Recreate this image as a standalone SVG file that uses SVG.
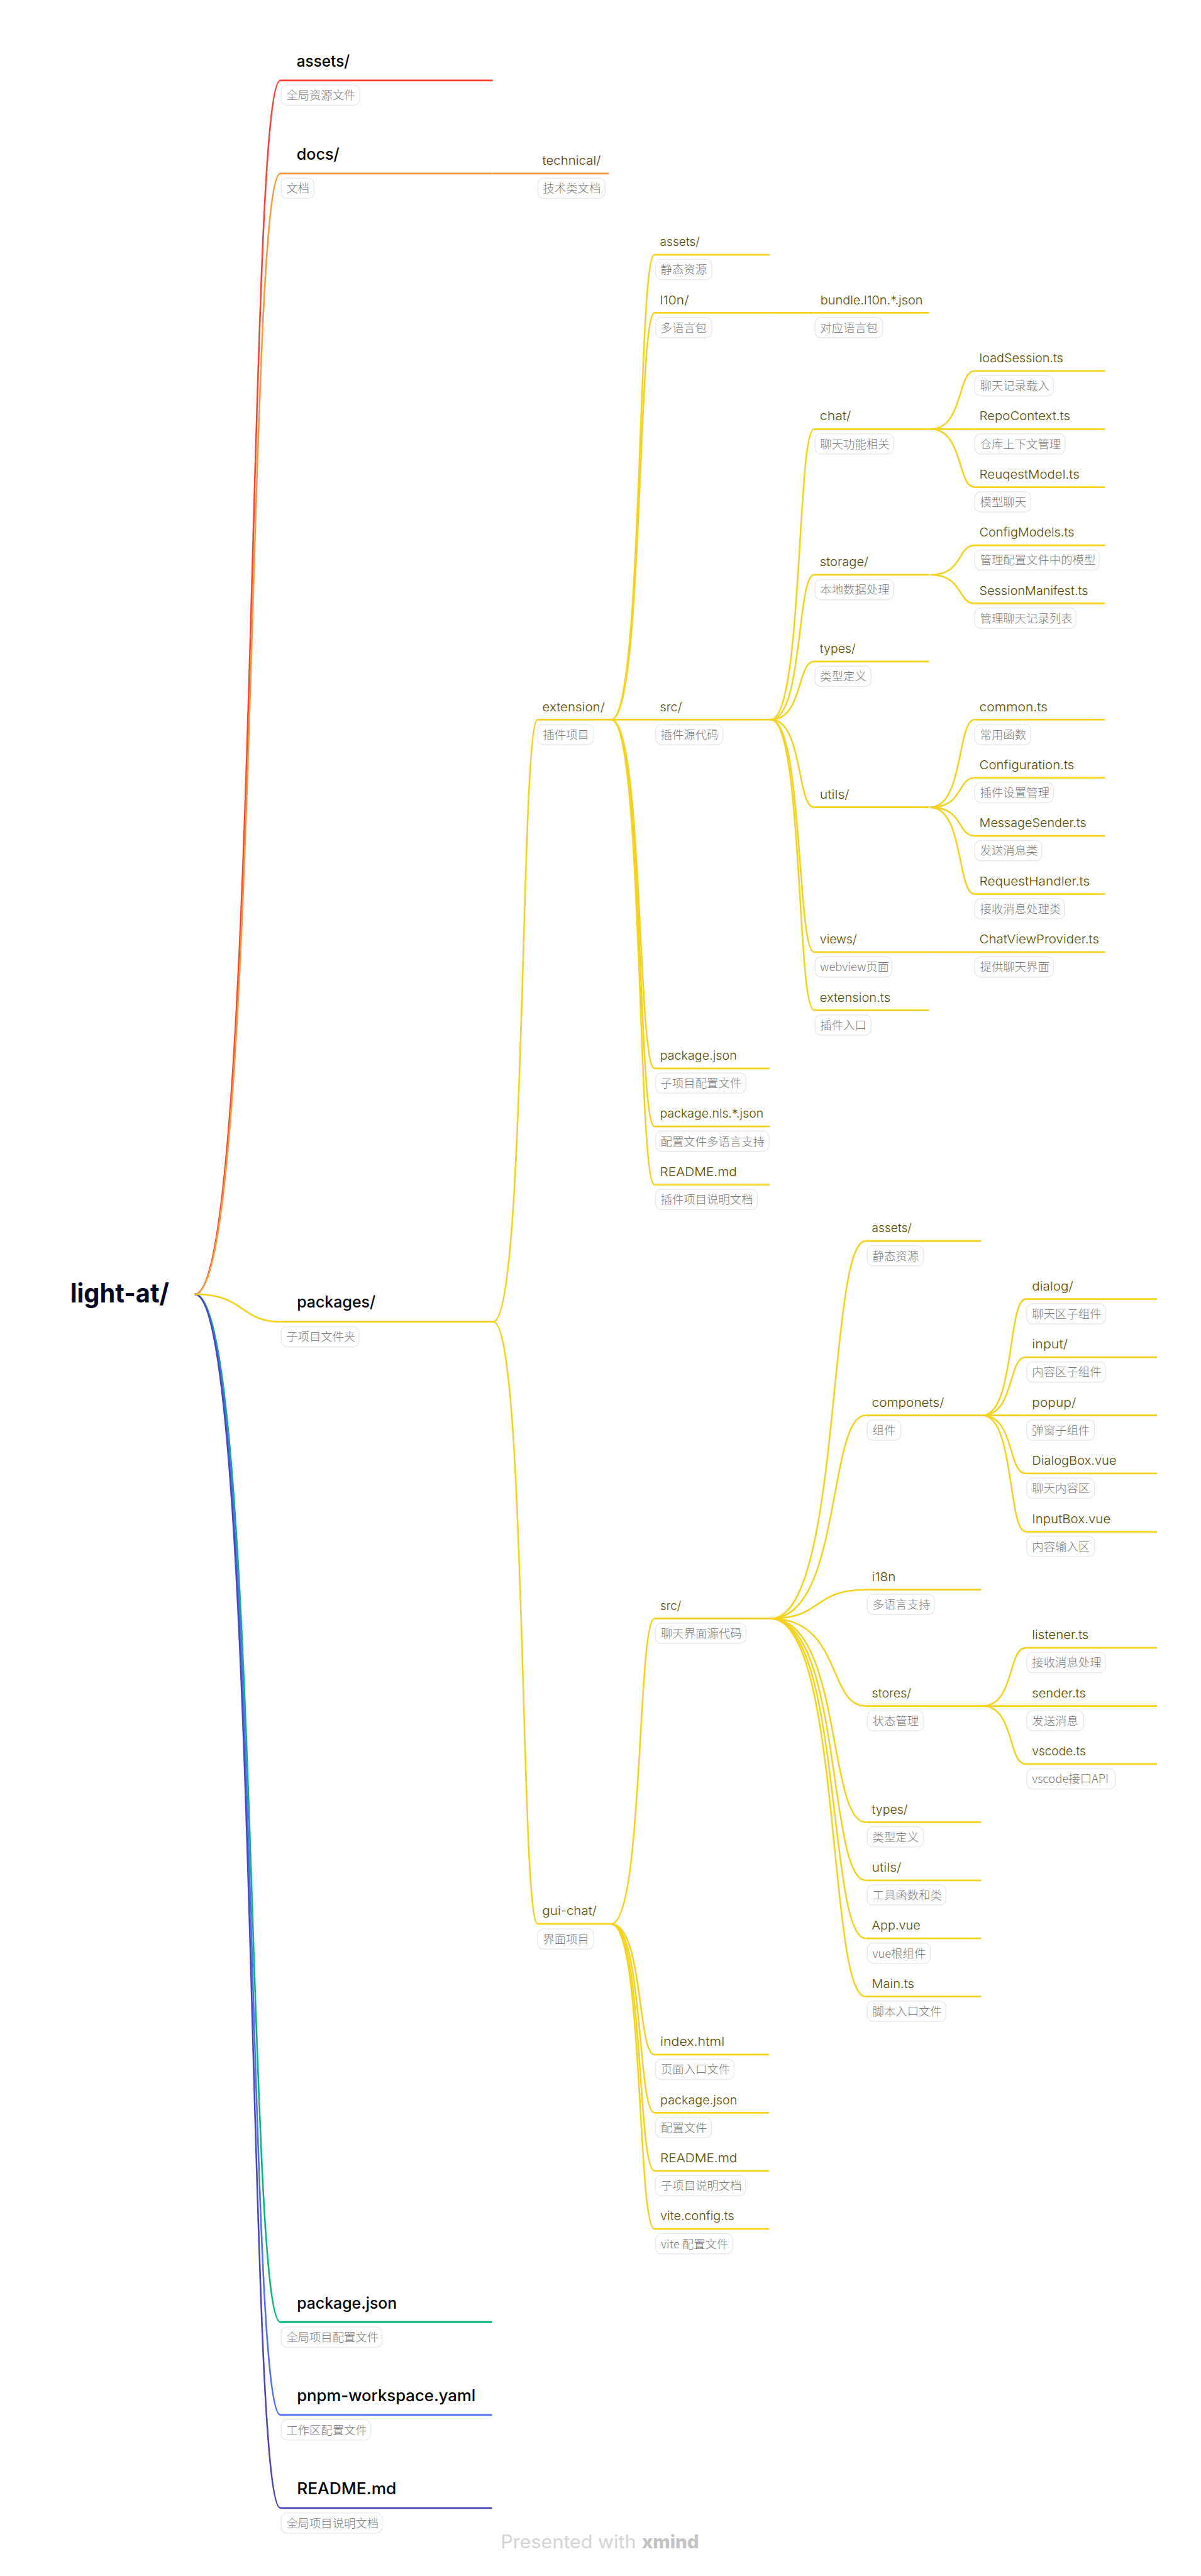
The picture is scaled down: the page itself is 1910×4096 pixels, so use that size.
<svg xmlns="http://www.w3.org/2000/svg" width="1910" height="4096" viewBox="0 0 1910 4096">
<style>
text{font-family:"Inter","Noto Sans CJK SC",sans-serif}
.u{fill:none;stroke-width:3;stroke-linecap:butt}
.c{fill:none;stroke-width:2.8}
.Y{stroke:#f5d21f}.R{stroke:#ff4034}.O{stroke:#f99a3c}.G{stroke:#00b87c}.B{stroke:#4f6dff}.I{stroke:#4a47b8}
.nb{fill:#fff;stroke:#e8e8e8;stroke-width:1.5}
.nt{font-family:"Noto Sans CJK SC",sans-serif;font-size:20px;font-weight:300;fill:#7a7a7a}
.t0{font-size:46px;font-weight:700;fill:#060826}
.t1{font-size:28px;font-weight:500;fill:#000}
.t2{font-size:21px;font-weight:300;fill:#5a3a0a}
.t3{font-size:21px;font-weight:300;fill:#5c4d00}
.f1{font-size:32px;font-weight:400;fill:#d4d4d4}
.f2{font-size:32px;font-weight:800;fill:#c4c4c4}
</style>
<g transform="scale(0.9195)">
<g id="connectors">
<path class="c R" d="M337 2238C448 2238 426 139 485 139"/>
<path class="c O" d="M337 2238C448 2238 426 300 485 300"/>
<path class="u O" d="M852 300H930"/>
<path class="c G" d="M337 2238C448 2238 426 4015.5 485 4015.5"/>
<path class="c B" d="M337 2238C448 2238 426 4176 485 4176"/>
<path class="c I" d="M337 2238C448 2238 426 4337 485 4337"/>
<path class="c Y" d="M337 2238C424 2238 414 2285.7 486 2285.7" style="stroke-width:3"/>
<path class="c Y" d="M853 2285.7C911 2285.7 899 1244.5 930 1244.5"/>
<path class="c Y" d="M853 2285.7C911 2285.7 899 3327 930 3327"/>
<path class="c Y" d="M1057 1244.5C1113 1244.5 1102 440.5 1132 440.5"/>
<path class="c Y" d="M1057 1244.5C1113 1244.5 1102 541 1132 541"/>
<path class="u Y" d="M1057 1244.5H1132"/>
<path class="c Y" d="M1057 1244.5C1113 1244.5 1102 1847.5 1132 1847.5"/>
<path class="c Y" d="M1057 1244.5C1113 1244.5 1102 1948 1132 1948"/>
<path class="c Y" d="M1057 1244.5C1113 1244.5 1102 2048.5 1132 2048.5"/>
<path class="u Y" d="M1331 541H1409"/>
<path class="c Y" d="M1333 1244.5C1389 1244.5 1378 742 1408 742"/>
<path class="c Y" d="M1333 1244.5C1389 1244.5 1378 994 1408 994"/>
<path class="c Y" d="M1333 1244.5C1389 1244.5 1378 1144 1408 1144"/>
<path class="c Y" d="M1333 1244.5C1389 1244.5 1378 1396 1408 1396"/>
<path class="c Y" d="M1333 1244.5C1389 1244.5 1378 1646.5 1408 1646.5"/>
<path class="c Y" d="M1333 1244.5C1389 1244.5 1378 1747 1408 1747"/>
<path class="c Y" d="M1609 742C1667 742 1655 641.5 1686 641.5"/>
<path class="u Y" d="M1607 742H1686"/>
<path class="c Y" d="M1609 742C1667 742 1655 842.5 1686 842.5"/>
<path class="c Y" d="M1609 994C1667 994 1655 943 1686 943"/>
<path class="c Y" d="M1609 994C1667 994 1655 1043.5 1686 1043.5"/>
<path class="c Y" d="M1609 1396C1667 1396 1655 1244.5 1686 1244.5"/>
<path class="c Y" d="M1609 1396C1667 1396 1655 1345 1686 1345"/>
<path class="c Y" d="M1609 1396C1667 1396 1655 1445.5 1686 1445.5"/>
<path class="c Y" d="M1609 1396C1667 1396 1655 1546 1686 1546"/>
<path class="u Y" d="M1607 1646.5H1686"/>
<path class="c Y" d="M1057 3327C1113 3327 1102 2799 1132 2799"/>
<path class="c Y" d="M1057 3327C1113 3327 1102 3553 1132 3553"/>
<path class="c Y" d="M1057 3327C1113 3327 1102 3653.5 1132 3653.5"/>
<path class="c Y" d="M1057 3327C1113 3327 1102 3754 1132 3754"/>
<path class="c Y" d="M1057 3327C1113 3327 1102 3854.5 1132 3854.5"/>
<path class="c Y" d="M1333 2799C1456 2799 1431 2146 1497 2146"/>
<path class="c Y" d="M1333 2799C1456 2799 1431 2447.5 1497 2447.5"/>
<path class="c Y" d="M1333 2799C1423 2799 1405 2749 1497 2749"/>
<path class="c Y" d="M1333 2799C1456 2799 1431 2950 1497 2950"/>
<path class="c Y" d="M1333 2799C1456 2799 1431 3151 1497 3151"/>
<path class="c Y" d="M1333 2799C1456 2799 1431 3251.5 1497 3251.5"/>
<path class="c Y" d="M1333 2799C1456 2799 1431 3352 1497 3352"/>
<path class="c Y" d="M1333 2799C1456 2799 1431 3452.5 1497 3452.5"/>
<path class="c Y" d="M1699 2447.5C1755 2447.5 1743 2246.5 1774 2246.5"/>
<path class="c Y" d="M1699 2447.5C1755 2447.5 1743 2347 1774 2347"/>
<path class="u Y" d="M1697 2447.5H1774"/>
<path class="c Y" d="M1699 2447.5C1755 2447.5 1743 2548 1774 2548"/>
<path class="c Y" d="M1699 2447.5C1755 2447.5 1743 2648.5 1774 2648.5"/>
<path class="c Y" d="M1699 2950C1755 2950 1743 2849.5 1774 2849.5"/>
<path class="u Y" d="M1697 2950H1774"/>
<path class="c Y" d="M1699 2950C1755 2950 1743 3050.5 1774 3050.5"/>
</g>

<g id="root"><text class="t0" x="121.5" y="2252" textLength="171" lengthAdjust="spacingAndGlyphs">light-at/</text></g>

<g id="top-assets"><path class="u R" d="M485 139H852"/><text class="t1" x="513" y="115" textLength="92" lengthAdjust="spacingAndGlyphs">assets/</text><rect class="nb" x="486" y="147" width="136" height="35" rx="10"/><text class="nt" x="495" y="172">全局资源文件</text></g>
<g id="top-docs"><path class="u O" d="M485 300H852"/><text class="t1" x="513" y="276" textLength="74" lengthAdjust="spacingAndGlyphs">docs/</text><rect class="nb" x="486" y="308" width="57" height="35" rx="10"/><text class="nt" x="495" y="333">文档</text></g>
<g id="docs-technical"><path class="u O" d="M930 300H1053"/><text class="t2" x="938" y="285" textLength="101" lengthAdjust="spacingAndGlyphs">technical/</text><rect class="nb" x="930.5" y="308" width="116" height="35" rx="10"/><text class="nt" x="939" y="333">技术类文档</text></g>
<g id="top-packages"><path class="u Y" d="M486 2285.7H853"/><text class="t1" x="513.5" y="2261" textLength="136" lengthAdjust="spacingAndGlyphs">packages/</text><rect class="nb" x="486" y="2294" width="135" height="35" rx="10"/><text class="nt" x="495" y="2319">子项目文件夹</text></g>
<g id="top-package-json"><path class="u G" d="M485 4015.5H851"/><text class="t1" x="513.5" y="3992" textLength="173" lengthAdjust="spacingAndGlyphs">package.json</text><rect class="nb" x="486" y="4024" width="175" height="35" rx="10"/><text class="nt" x="495" y="4049">全局项目配置文件</text></g>
<g id="top-pnpm"><path class="u B" d="M485 4176H851"/><text class="t1" x="513.5" y="4152.5" textLength="309" lengthAdjust="spacingAndGlyphs">pnpm-workspace.yaml</text><rect class="nb" x="486" y="4184.5" width="155" height="35" rx="10"/><text class="nt" x="495" y="4209.5">工作区配置文件</text></g>
<g id="top-readme"><path class="u I" d="M485 4337H851"/><text class="t1" x="513.5" y="4313.5" textLength="172" lengthAdjust="spacingAndGlyphs">README.md</text><rect class="nb" x="486" y="4345.5" width="175" height="35" rx="10"/><text class="nt" x="495" y="4370.5">全局项目说明文档</text></g>

<g id="extension"><path class="u Y" d="M930 1244.5H1057"/><text class="t3" x="938" y="1229.5" textLength="108" lengthAdjust="spacingAndGlyphs">extension/</text><rect class="nb" x="930" y="1252.5" width="97" height="35" rx="10"/><text class="nt" x="939" y="1277.5">插件项目</text></g>
<g id="gui-chat"><path class="u Y" d="M930 3327H1057"/><text class="t3" x="938" y="3312" textLength="94" lengthAdjust="spacingAndGlyphs">gui-chat/</text><rect class="nb" x="930" y="3335.5" width="97" height="35" rx="10"/><text class="nt" x="939" y="3360.5">界面项目</text></g>

<g id="ext-assets"><path class="u Y" d="M1132 440.5H1331"/><text class="t3" x="1141.5" y="425.5" textLength="69" lengthAdjust="spacingAndGlyphs">assets/</text><rect class="nb" x="1134" y="448.5" width="97" height="35" rx="10"/><text class="nt" x="1142.5" y="473.5">静态资源</text></g>
<g id="ext-l10n"><path class="u Y" d="M1132 541H1331"/><text class="t3" x="1141.5" y="526" textLength="50" lengthAdjust="spacingAndGlyphs">l10n/</text><rect class="nb" x="1134" y="549" width="97" height="35" rx="10"/><text class="nt" x="1142.5" y="574">多语言包</text></g>
<g id="ext-bundle"><path class="u Y" d="M1409 541H1607"/><text class="t3" x="1419" y="526" textLength="177" lengthAdjust="spacingAndGlyphs">bundle.l10n.*.json</text><rect class="nb" x="1409.5" y="549" width="117" height="35" rx="10"/><text class="nt" x="1418.5" y="574">对应语言包</text></g>
<g id="ext-src"><path class="u Y" d="M1132 1244.5H1333"/><text class="t3" x="1141.5" y="1229.5" textLength="38" lengthAdjust="spacingAndGlyphs">src/</text><rect class="nb" x="1134" y="1252.5" width="116" height="35" rx="10"/><text class="nt" x="1142.5" y="1277.5">插件源代码</text></g>
<g id="ext-package-json"><path class="u Y" d="M1132 1847.5H1331"/><text class="t3" x="1141.5" y="1832.5" textLength="133" lengthAdjust="spacingAndGlyphs">package.json</text><rect class="nb" x="1134" y="1855.5" width="156" height="35" rx="10"/><text class="nt" x="1142.5" y="1880.5">子项目配置文件</text></g>
<g id="ext-nls"><path class="u Y" d="M1132 1948H1331"/><text class="t3" x="1141.5" y="1933" textLength="179" lengthAdjust="spacingAndGlyphs">package.nls.*.json</text><rect class="nb" x="1134" y="1956" width="196" height="35" rx="10"/><text class="nt" x="1142.5" y="1981">配置文件多语言支持</text></g>
<g id="ext-readme"><path class="u Y" d="M1132 2048.5H1331"/><text class="t3" x="1141.5" y="2033.5" textLength="133" lengthAdjust="spacingAndGlyphs">README.md</text><rect class="nb" x="1134" y="2056.5" width="176" height="35" rx="10"/><text class="nt" x="1142.5" y="2081.5">插件项目说明文档</text></g>

<g id="ext-chat"><path class="u Y" d="M1408 742H1607"/><text class="t3" x="1418" y="727" textLength="54" lengthAdjust="spacingAndGlyphs">chat/</text><rect class="nb" x="1409.5" y="750" width="136" height="35" rx="10"/><text class="nt" x="1418.5" y="775">聊天功能相关</text></g>
<g id="ext-storage"><path class="u Y" d="M1408 994H1607"/><text class="t3" x="1418" y="979" textLength="84" lengthAdjust="spacingAndGlyphs">storage/</text><rect class="nb" x="1409.5" y="1002" width="136" height="35" rx="10"/><text class="nt" x="1418.5" y="1027">本地数据处理</text></g>
<g id="ext-types"><path class="u Y" d="M1408 1144H1607"/><text class="t3" x="1418" y="1129" textLength="62" lengthAdjust="spacingAndGlyphs">types/</text><rect class="nb" x="1409.5" y="1152" width="97" height="35" rx="10"/><text class="nt" x="1418.5" y="1177">类型定义</text></g>
<g id="ext-utils"><path class="u Y" d="M1408 1396H1607"/><text class="t3" x="1418" y="1381" textLength="51" lengthAdjust="spacingAndGlyphs">utils/</text></g>
<g id="ext-views"><path class="u Y" d="M1408 1646.5H1607"/><text class="t3" x="1418" y="1631.5" textLength="64" lengthAdjust="spacingAndGlyphs">views/</text><rect class="nb" x="1409.5" y="1654.5" width="133" height="35" rx="10"/><text class="nt" x="1418.5" y="1679.5">webview页面</text></g>
<g id="ext-extension-ts"><path class="u Y" d="M1408 1747H1607"/><text class="t3" x="1418" y="1732" textLength="122" lengthAdjust="spacingAndGlyphs">extension.ts</text><rect class="nb" x="1409.5" y="1755" width="97" height="35" rx="10"/><text class="nt" x="1418.5" y="1780">插件入口</text></g>

<g id="ext-loadSession"><path class="u Y" d="M1686 641.5H1911"/><text class="t3" x="1694" y="626.5" textLength="145" lengthAdjust="spacingAndGlyphs">loadSession.ts</text><rect class="nb" x="1686" y="649.5" width="136" height="35" rx="10"/><text class="nt" x="1695" y="674.5">聊天记录载入</text></g>
<g id="ext-RepoContext"><path class="u Y" d="M1686 742H1911"/><text class="t3" x="1694" y="727" textLength="157" lengthAdjust="spacingAndGlyphs">RepoContext.ts</text><rect class="nb" x="1686" y="750" width="156" height="35" rx="10"/><text class="nt" x="1695" y="775">仓库上下文管理</text></g>
<g id="ext-ReuqestModel"><path class="u Y" d="M1686 842.5H1911"/><text class="t3" x="1694" y="827.5" textLength="173" lengthAdjust="spacingAndGlyphs">ReuqestModel.ts</text><rect class="nb" x="1686" y="850.5" width="97" height="35" rx="10"/><text class="nt" x="1695" y="875.5">模型聊天</text></g>
<g id="ext-ConfigModels"><path class="u Y" d="M1686 943H1911"/><text class="t3" x="1694" y="928" textLength="164" lengthAdjust="spacingAndGlyphs">ConfigModels.ts</text><rect class="nb" x="1686" y="951" width="215" height="35" rx="10"/><text class="nt" x="1695" y="976">管理配置文件中的模型</text></g>
<g id="ext-SessionManifest"><path class="u Y" d="M1686 1043.5H1911"/><text class="t3" x="1694" y="1028.5" textLength="188" lengthAdjust="spacingAndGlyphs">SessionManifest.ts</text><rect class="nb" x="1686" y="1051.5" width="175" height="35" rx="10"/><text class="nt" x="1695" y="1076.5">管理聊天记录列表</text></g>
<g id="ext-common"><path class="u Y" d="M1686 1244.5H1911"/><text class="t3" x="1694" y="1229.5" textLength="118" lengthAdjust="spacingAndGlyphs">common.ts</text><rect class="nb" x="1686" y="1252.5" width="97" height="35" rx="10"/><text class="nt" x="1695" y="1277.5">常用函数</text></g>
<g id="ext-Configuration"><path class="u Y" d="M1686 1345H1911"/><text class="t3" x="1694" y="1330" textLength="164" lengthAdjust="spacingAndGlyphs">Configuration.ts</text><rect class="nb" x="1686" y="1353" width="136" height="35" rx="10"/><text class="nt" x="1695" y="1378">插件设置管理</text></g>
<g id="ext-MessageSender"><path class="u Y" d="M1686 1445.5H1911"/><text class="t3" x="1694" y="1430.5" textLength="185" lengthAdjust="spacingAndGlyphs">MessageSender.ts</text><rect class="nb" x="1686" y="1453.5" width="116" height="35" rx="10"/><text class="nt" x="1695" y="1478.5">发送消息类</text></g>
<g id="ext-RequestHandler"><path class="u Y" d="M1686 1546H1911"/><text class="t3" x="1694" y="1531" textLength="191" lengthAdjust="spacingAndGlyphs">RequestHandler.ts</text><rect class="nb" x="1686" y="1554" width="155" height="35" rx="10"/><text class="nt" x="1695" y="1579">接收消息处理类</text></g>
<g id="ext-ChatViewProvider"><path class="u Y" d="M1686 1646.5H1911"/><text class="t3" x="1694" y="1631.5" textLength="207" lengthAdjust="spacingAndGlyphs">ChatViewProvider.ts</text><rect class="nb" x="1686" y="1654.5" width="136" height="35" rx="10"/><text class="nt" x="1695" y="1679.5">提供聊天界面</text></g>

<g id="gui-src"><path class="u Y" d="M1132 2799H1333"/><text class="t3" x="1142" y="2784" textLength="36" lengthAdjust="spacingAndGlyphs">src/</text><rect class="nb" x="1133.5" y="2807" width="156.5" height="35" rx="10"/><text class="nt" x="1143" y="2832">聊天界面源代码</text></g>
<g id="gui-index"><path class="u Y" d="M1132 3553H1330"/><text class="t3" x="1142" y="3538" textLength="111" lengthAdjust="spacingAndGlyphs">index.html</text><rect class="nb" x="1133.5" y="3561" width="136" height="35" rx="10"/><text class="nt" x="1143" y="3586">页面入口文件</text></g>
<g id="gui-package-json"><path class="u Y" d="M1132 3653.5H1330"/><text class="t3" x="1142" y="3638.5" textLength="133" lengthAdjust="spacingAndGlyphs">package.json</text><rect class="nb" x="1133.5" y="3661.5" width="97" height="35" rx="10"/><text class="nt" x="1143" y="3686.5">配置文件</text></g>
<g id="gui-readme"><path class="u Y" d="M1132 3754H1330"/><text class="t3" x="1142" y="3739" textLength="133" lengthAdjust="spacingAndGlyphs">README.md</text><rect class="nb" x="1133.5" y="3762" width="156" height="35" rx="10"/><text class="nt" x="1143" y="3787">子项目说明文档</text></g>
<g id="gui-vite"><path class="u Y" d="M1132 3854.5H1330"/><text class="t3" x="1142" y="3839.5" textLength="128" lengthAdjust="spacingAndGlyphs">vite.config.ts</text><rect class="nb" x="1134" y="3862.5" width="133" height="35" rx="10"/><text class="nt" x="1143" y="3887.5">vite 配置文件</text></g>

<g id="gui-assets"><path class="u Y" d="M1497 2146H1697"/><text class="t3" x="1508" y="2131" textLength="69" lengthAdjust="spacingAndGlyphs">assets/</text><rect class="nb" x="1500" y="2154" width="97" height="35" rx="10"/><text class="nt" x="1509" y="2179">静态资源</text></g>
<g id="gui-componets"><path class="u Y" d="M1497 2447.5H1697"/><text class="t3" x="1508" y="2432.5" textLength="125" lengthAdjust="spacingAndGlyphs">componets/</text><rect class="nb" x="1500" y="2455.5" width="58" height="35" rx="10"/><text class="nt" x="1509" y="2480.5">组件</text></g>
<g id="gui-i18n"><path class="u Y" d="M1497 2749H1697"/><text class="t3" x="1508" y="2734" textLength="41" lengthAdjust="spacingAndGlyphs">i18n</text><rect class="nb" x="1500" y="2757" width="116" height="35" rx="10"/><text class="nt" x="1509" y="2782">多语言支持</text></g>
<g id="gui-stores"><path class="u Y" d="M1497 2950H1697"/><text class="t3" x="1508" y="2935" textLength="68" lengthAdjust="spacingAndGlyphs">stores/</text><rect class="nb" x="1500" y="2958" width="97" height="35" rx="10"/><text class="nt" x="1509" y="2983">状态管理</text></g>
<g id="gui-types"><path class="u Y" d="M1497 3151H1697"/><text class="t3" x="1508" y="3136" textLength="62" lengthAdjust="spacingAndGlyphs">types/</text><rect class="nb" x="1500" y="3159" width="97" height="35" rx="10"/><text class="nt" x="1509" y="3184">类型定义</text></g>
<g id="gui-utils"><path class="u Y" d="M1497 3251.5H1697"/><text class="t3" x="1508" y="3236.5" textLength="51" lengthAdjust="spacingAndGlyphs">utils/</text><rect class="nb" x="1500" y="3259.5" width="136" height="35" rx="10"/><text class="nt" x="1509" y="3284.5">工具函数和类</text></g>
<g id="gui-App"><path class="u Y" d="M1497 3352H1697"/><text class="t3" x="1508" y="3337" textLength="84" lengthAdjust="spacingAndGlyphs">App.vue</text><rect class="nb" x="1500" y="3360" width="109" height="35" rx="10"/><text class="nt" x="1509" y="3385">vue根组件</text></g>
<g id="gui-Main"><path class="u Y" d="M1497 3452.5H1697"/><text class="t3" x="1508" y="3437.5" textLength="73" lengthAdjust="spacingAndGlyphs">Main.ts</text><rect class="nb" x="1500" y="3460.5" width="136" height="35" rx="10"/><text class="nt" x="1509" y="3485.5">脚本入口文件</text></g>

<g id="gui-dialog"><path class="u Y" d="M1774 2246.5H2001"/><text class="t3" x="1785" y="2231.5" textLength="71" lengthAdjust="spacingAndGlyphs">dialog/</text><rect class="nb" x="1776" y="2254.5" width="136" height="35" rx="10"/><text class="nt" x="1785" y="2279.5">聊天区子组件</text></g>
<g id="gui-input"><path class="u Y" d="M1774 2347H2001"/><text class="t3" x="1785" y="2332" textLength="62" lengthAdjust="spacingAndGlyphs">input/</text><rect class="nb" x="1776" y="2355" width="136" height="35" rx="10"/><text class="nt" x="1785" y="2380">内容区子组件</text></g>
<g id="gui-popup"><path class="u Y" d="M1774 2447.5H2001"/><text class="t3" x="1785" y="2432.5" textLength="76" lengthAdjust="spacingAndGlyphs">popup/</text><rect class="nb" x="1776" y="2455.5" width="117" height="35" rx="10"/><text class="nt" x="1785" y="2480.5">弹窗子组件</text></g>
<g id="gui-DialogBox"><path class="u Y" d="M1774 2548H2001"/><text class="t3" x="1785" y="2533" textLength="146" lengthAdjust="spacingAndGlyphs">DialogBox.vue</text><rect class="nb" x="1776" y="2556" width="117" height="35" rx="10"/><text class="nt" x="1785" y="2581">聊天内容区</text></g>
<g id="gui-InputBox"><path class="u Y" d="M1774 2648.5H2001"/><text class="t3" x="1785" y="2633.5" textLength="136" lengthAdjust="spacingAndGlyphs">InputBox.vue</text><rect class="nb" x="1776" y="2656.5" width="117" height="35" rx="10"/><text class="nt" x="1785" y="2681.5">内容输入区</text></g>
<g id="gui-listener"><path class="u Y" d="M1774 2849.5H2001"/><text class="t3" x="1785" y="2834.5" textLength="98" lengthAdjust="spacingAndGlyphs">listener.ts</text><rect class="nb" x="1776" y="2857.5" width="136" height="35" rx="10"/><text class="nt" x="1785" y="2882.5">接收消息处理</text></g>
<g id="gui-sender"><path class="u Y" d="M1774 2950H2001"/><text class="t3" x="1785" y="2935" textLength="93" lengthAdjust="spacingAndGlyphs">sender.ts</text><rect class="nb" x="1776" y="2958" width="98" height="35" rx="10"/><text class="nt" x="1785" y="2983">发送消息</text></g>
<g id="gui-vscode"><path class="u Y" d="M1774 3050.5H2001"/><text class="t3" x="1785" y="3035.5" textLength="93" lengthAdjust="spacingAndGlyphs">vscode.ts</text><rect class="nb" x="1776" y="3058.5" width="153" height="35" rx="10"/><text class="nt" x="1785" y="3083.5">vscode接口API</text></g>

<text class="f1" x="866" y="4407" textLength="234" lengthAdjust="spacingAndGlyphs">Presented with</text>
<text class="f2" x="1110" y="4407" textLength="99" lengthAdjust="spacingAndGlyphs">xmind</text>
</g>
</svg>
